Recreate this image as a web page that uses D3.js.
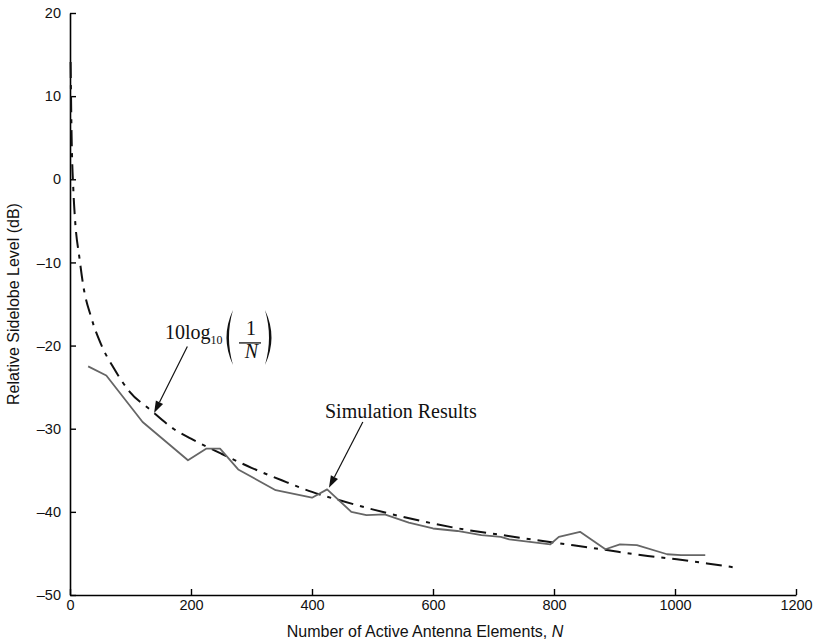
<!DOCTYPE html>
<html><head><meta charset="utf-8">
<script src="https://cdn.jsdelivr.net/npm/d3@7"></script>
<style>body{margin:0;background:#fff}svg{display:block}</style>
</head><body>
<script>
// ---- data ----
const simN = [30, 60, 120, 195, 225, 248, 278, 340, 400, 425, 465, 490, 520, 560, 600, 640, 680, 712, 726, 794, 808, 843, 885, 909, 937, 987, 1010, 1050];
const simDB = [-22.5, -23.6, -29.2, -33.8, -32.4, -32.4, -34.9, -37.4, -38.3, -37.3, -40.0, -40.4, -40.3, -41.3, -42.0, -42.3, -42.8, -43.0, -43.3, -43.9, -43.0, -42.4, -44.5, -43.9, -44.0, -45.1, -45.2, -45.2];
const refN = [1, 2.5, 5.5, 8.3, 15.7, 21.5, 35, 51, 73, 98, 134, 171, 200, 250, 300, 350, 400, 450, 500, 550, 600, 650, 715, 762, 810, 860, 906, 955, 1003, 1053, 1100];
const refDB = [14.1, 5.8, -1.2, -4.8, -9.5, -12.6, -16.6, -19.8, -22.8, -25.5, -27.8, -30.0, -31.2, -33.0, -34.7, -36.2, -37.6, -38.7, -39.7, -40.6, -41.4, -42.1, -42.8, -43.3, -43.8, -44.3, -44.8, -45.3, -45.7, -46.2, -46.7];
const xTicks = [0, 200, 400, 600, 800, 1000, 1200];
const xTickLabels = ["0", "200", "400", "600", "800", "1000", "1200"];
const yTicks = [-50, -40, -30, -20, -10, 0, 10, 20];
const yTickLabels = ["\u201350", "\u201340", "\u201330", "\u201320", "\u201310", "0", "10", "20"];
const xTitle = "Number of Active Antenna Elements, ";
const yTitle = "Relative Sidelobe Level (dB)";
const simLabel = "Simulation Results";

const W = 819, H = 642;
const svg = d3.select("body").append("svg").attr("width", W).attr("height", H);
const x = d3.scaleLinear().domain([0, 1200]).range([70, 796]);
const y = d3.scaleLinear().domain([-50, 20]).range([595, 13]);

const sans = "'Liberation Sans', Arial, Helvetica, sans-serif";
const serif = "'Liberation Serif', 'Times New Roman', serif";

// axes
const gx = svg.append("g").attr("transform", `translate(0,${y(-50)})`)
  .call(d3.axisBottom(x).tickValues(xTicks).tickFormat((d, i) => xTickLabels[i])
    .tickSizeInner(-6).tickSizeOuter(0).tickPadding(5));
const gy = svg.append("g").attr("transform", `translate(${x(0)},0)`)
  .call(d3.axisLeft(y).tickValues(yTicks).tickFormat((d, i) => yTickLabels[i])
    .tickSizeInner(-6).tickSizeOuter(0).tickPadding(9));
[gx, gy].forEach(g => {
  g.select(".domain").attr("stroke", "#000").attr("stroke-width", 1.6);
  g.selectAll(".tick line").attr("stroke", "#000").attr("stroke-width", 1.4);
  g.selectAll(".tick text").attr("fill", "#111").style("font-family", sans).style("font-size", "14.5px");
});

// titles
svg.append("text").attr("x", (x(0) + x(1200)) / 2 - 8).attr("y", 637)
  .attr("text-anchor", "middle").style("font-family", sans).style("font-size", "16px").attr("fill", "#111")
  .text(xTitle).append("tspan").style("font-style", "italic").text("N");
svg.append("text").attr("transform", `translate(19,${(y(-50) + y(20)) / 2}) rotate(-90)`)
  .attr("text-anchor", "middle").style("font-family", sans).style("font-size", "16px").attr("fill", "#111")
  .text(yTitle);

// series
const line = d3.line().x(d => x(d[0])).y(d => y(d[1])).curve(d3.curveMonotoneX);
svg.append("path").datum(refN.map((n, i) => [n, refDB[i]]))
  .attr("d", line).attr("fill", "none").attr("stroke", "#111").attr("stroke-width", 2)
  .attr("stroke-dasharray", "16,7,4,7");
svg.append("path").datum(simN.map((n, i) => [n, simDB[i]]))
  .attr("d", d3.line().x(d => x(d[0])).y(d => y(d[1]))).attr("fill", "none")
  .attr("stroke", "#666").attr("stroke-width", 1.8).attr("stroke-linejoin", "round");

// arrows
function arrow(n0, v0, n1, v1) {
  const x0 = x(n0), y0 = y(v0), x1 = x(n1), y1 = y(v1);
  const a = Math.atan2(y1 - y0, x1 - x0), L = 12, hw = 4;
  const bx = x1 - L * Math.cos(a), by = y1 - L * Math.sin(a);
  svg.append("line").attr("x1", x0).attr("y1", y0).attr("x2", bx).attr("y2", by)
    .attr("stroke", "#111").attr("stroke-width", 1.2);
  svg.append("path").attr("d", `M${x1},${y1}L${bx - hw * Math.sin(a)},${by + hw * Math.cos(a)}L${bx + hw * Math.sin(a)},${by - hw * Math.cos(a)}Z`)
    .attr("fill", "#111");
}
arrow(194, -20.1, 139, -28.1);
arrow(484, -29.2, 428, -37.1);

// formula label
const f = svg.append("g").attr("transform", `translate(${x(157)},${y(-19.2)})`)
  .style("font-family", serif).attr("fill", "#111");
const ft = f.append("text").style("font-size", "20px").attr("x", 0).attr("y", 0);
ft.append("tspan").text("10log");
ft.append("tspan").style("font-size", "12px").attr("dy", 5).text("10");
f.append("path").attr("d", "M68,-29Q55,-1.5 68,26Q60,-1.5 68,-29Z");
f.append("path").attr("d", "M100,-29Q113,-1.5 100,26Q108,-1.5 100,-29Z");
f.append("text").attr("x", 86).attr("y", -4).attr("text-anchor", "middle").style("font-size", "20px").text("1");
f.append("line").attr("x1", 74).attr("x2", 96).attr("y1", 4).attr("y2", 4).attr("stroke", "#111").attr("stroke-width", 1.3);
f.append("text").attr("x", 86.5).attr("y", 19).attr("text-anchor", "middle").style("font-size", "20px").style("font-style", "italic").text("N");

// simulation label
svg.append("text").attr("x", x(421.5)).attr("y", y(-28.7)).style("font-family", serif)
  .style("font-size", "20px").attr("fill", "#111").text(simLabel);
</script>
</body></html>
